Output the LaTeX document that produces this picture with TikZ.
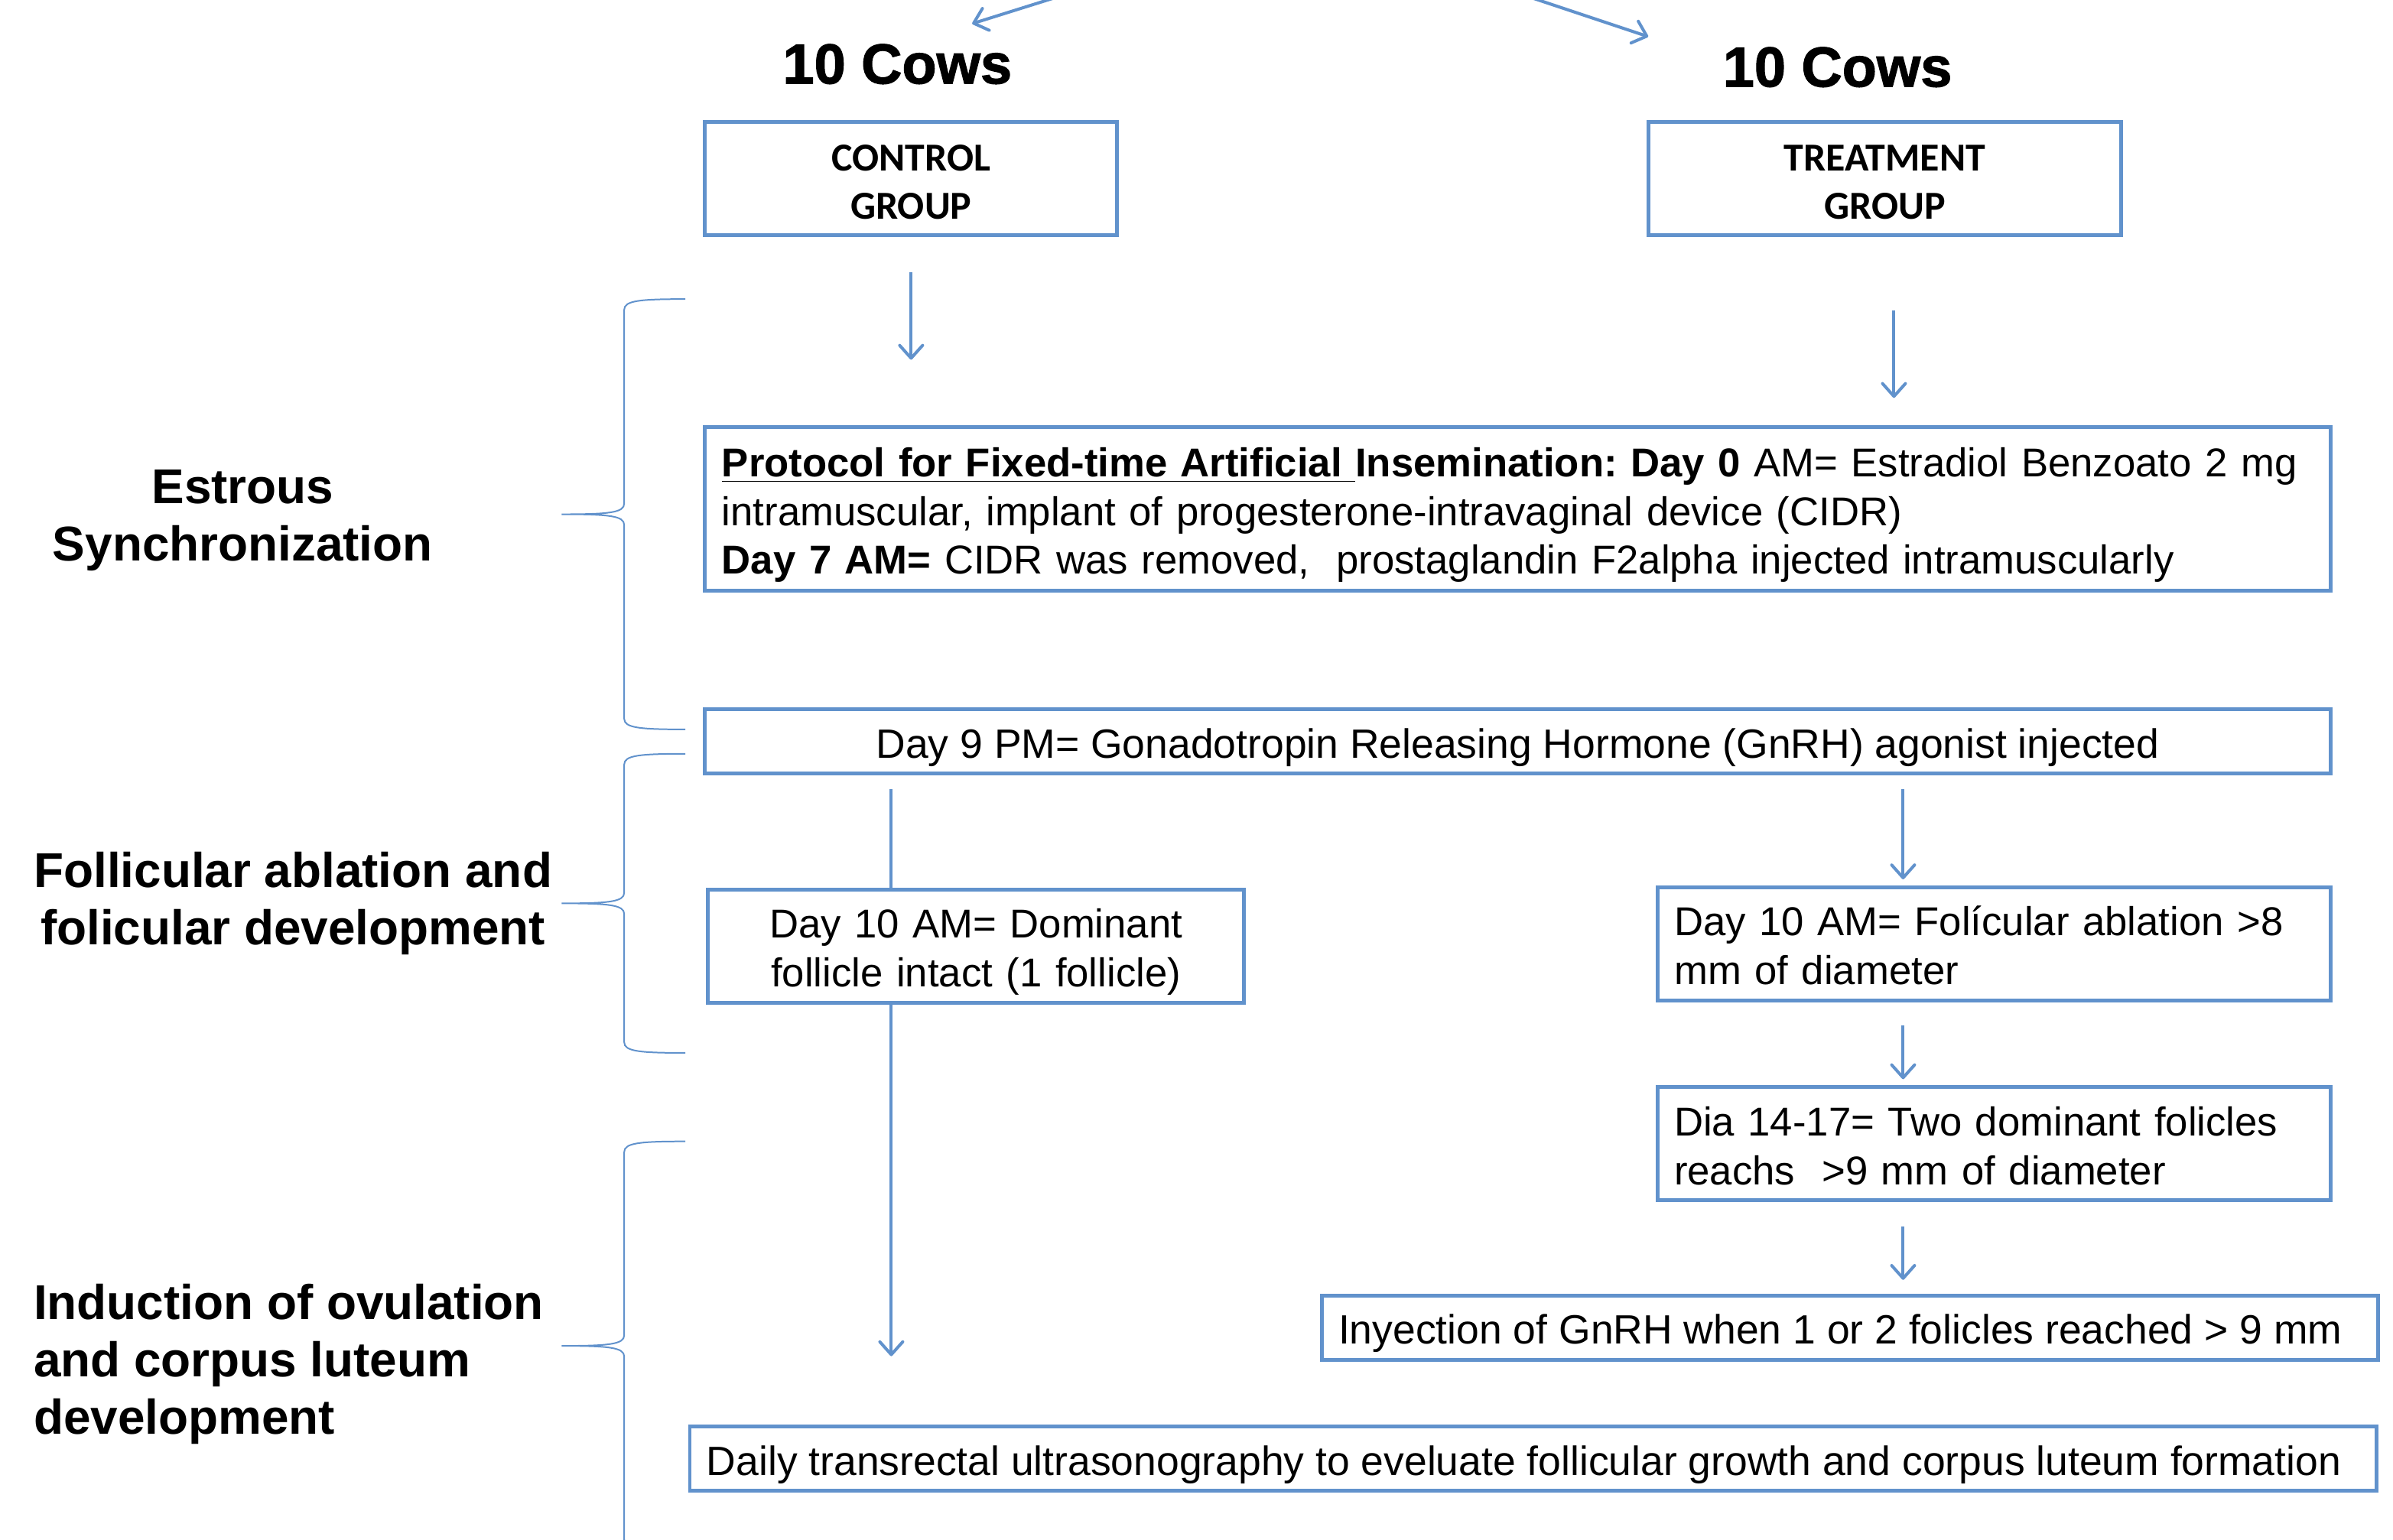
\documentclass[tikz,border=0pt]{standalone}
\usepackage{fontspec}
\setmainfont{Liberation Sans}
\newfontfamily\groupfont{Carlito}
\newfontfamily\heavyfont{Liberation Sans}[BoldFeatures={FakeBold=1.6}]
\usepackage{tikz}
\usetikzlibrary{arrows.meta}
\frenchspacing
\definecolor{flowblue}{RGB}{97,146,204}
\newcommand{\boxfont}{\fontsize{13.2}{16}\selectfont}
\newcommand{\widefont}{\fontsize{13.4}{16}\selectfont}
\newcommand{\phasefont}{\fontsize{16}{18.7}\selectfont\bfseries}
\newcommand{\lefttext}[2]{\makebox[#1][l]{#2}}
\newcommand{\bracex}{409}
\tikzset{
    common/.style={draw=flowblue, line width=1.25pt, rectangle, inner xsep=5.5pt, inner ysep=0pt, font=\boxfont,
        execute at begin node={\rule{0pt}{14.5pt}}, execute at end node={\rule[-3.7pt]{0pt}{0pt}}},
    groupbox/.style={common, minimum height=37pt, align=center, font=\groupfont\fontsize{13}{16}\selectfont\bfseries,
        execute at begin node={\rule{0pt}{14pt}}, execute at end node={\rule[-3.6pt]{0pt}{0pt}}},
    stepbox/.style={common, minimum height=37pt},
    wide/.style={common, minimum height=21pt, font=\widefont},
    cows/.style={font=\heavyfont\fontsize{18.5}{20}\selectfont\bfseries},
    phase/.style={font=\phasefont},
    conn/.style={flowblue, line width=1pt, -{Straight Barb[length=4.2pt, width=7.5pt, round]}},
    plainconn/.style={flowblue, line width=1pt},
    brace/.style={flowblue, line width=0.5pt}
}
% brace: top, bottom
\newcommand{\phasebrace}[2]{
    \pgfmathsetmacro{\bracemid}{(#1+#2)/2}
    \draw[brace] (\bracex+40,#1) .. controls (\bracex+10,#1) and (\bracex,#1+1) .. (\bracex,#1+7)
        -- (\bracex,\bracemid-7) .. controls (\bracex,\bracemid-1) and (\bracex-10,\bracemid) .. (\bracex-41,\bracemid)
        .. controls (\bracex-10,\bracemid) and (\bracex,\bracemid+1) .. (\bracex,\bracemid+7)
        -- (\bracex,#2-7) .. controls (\bracex,#2-1) and (\bracex+10,#2) .. (\bracex+40,#2);
}
\begin{document}
\begin{tikzpicture}[x=0.5pt, y=-0.5pt]
    \useasboundingbox (0,0) rectangle (1568,1009);

    % groups
    \node[cows] (cowsA) at (588,42) {10 Cows};
    \node[cows] (cowsB) at (1204,44) {10 Cows};
    \node[groupbox, minimum width=135pt, text width=124pt] (control) at (597,117) {CONTROL\\GROUP};
    \node[groupbox, minimum width=155pt, text width=144pt] (treatment) at (1235,117) {TREATMENT\\GROUP};

    \coordinate (split-l) at (712,-8);
    \coordinate (split-r) at (984,-8);
    \coordinate (cowsA-in) at (637,15.5);
    \coordinate (cowsB-in) at (1080,24);

    % protocol
    \node[common, minimum width=532.5pt, minimum height=53.5pt, text width=521.5pt, align=left] (protocol) at (994.5,333.5)
        {\textbf{\underline{Protocol for Fixed-time Artificial\ }Insemination: Day 0} AM= Estradiol Benzoato 2 mg\\
         intramuscular, implant of progesterone-intravaginal device (CIDR)\\
         \textbf{Day 7 AM=} CIDR was removed,\ \ prostaglandin F2alpha injected intramuscularly};
    \node[wide, minimum width=532.5pt] (gnrh) at (994.5,486)
        {Day 9 PM= Gonadotropin Releasing Hormone (GnRH) agonist injected};

    % follicles
    \node[stepbox, minimum width=175.5pt, text width=164.5pt, align=center] (dominant) at (639.5,620)
        {Day 10 AM= Dominant\\follicle intact (1 follicle)};
    \node[stepbox, minimum width=220.5pt, text width=209.5pt, align=left] (ablation) at (1306.5,618.5)
        {Day 10 AM= Folícular ablation >8\\mm of diameter};
    \node[stepbox, minimum width=220.5pt, text width=209.5pt, align=left] (dia) at (1306.5,749.5)
        {Dia 14-17= Two dominant folicles\\reachs\ \ >9 mm of diameter};
    \node[wide, minimum width=346pt] (injection) at (1212,870)
        {\lefttext{335pt}{Inyection of GnRH when 1 or 2 folicles reached > 9 mm}};
    \node[wide, minimum width=552.5pt] (daily) at (1004.5,956)
        {\lefttext{541.5pt}{Daily transrectal ultrasonography to eveluate follicular growth and corpus luteum formation}};

    % phases
    \node[phase, align=center] (estrous) at (159,341) {Estrous\\Synchronization};
    \node[phase, align=center] (ablationphase) at (192,592) {Follicular ablation and\\folicular development};
    \node[phase, align=left, anchor=west] (induction) at (15,894) {Induction of ovulation\\and corpus luteum\\development};
    \phasebrace{196}{478}
    \phasebrace{494}{690}
    \phasebrace{748}{1016}

    % connectors
    \draw[conn] (split-l) -- (cowsA-in);
    \draw[conn] (split-r) -- (cowsB-in);
    \draw[conn, shorten <=11.5pt, shorten >=21.5pt] (control.south) -- (control.south |- protocol.north);
    \draw[conn, shorten <=24pt, shorten >=9pt] ([xshift=3pt]treatment.south) -- ([xshift=3pt]treatment.south |- protocol.north);
    \draw[plainconn, shorten <=4.5pt] ([xshift=-27.75pt]dominant.north |- gnrh.south) -- ([xshift=-27.75pt]dominant.north);
    \draw[conn, shorten >=22.5pt] ([xshift=-27.75pt]dominant.south) -- ([xshift=-27.75pt]dominant.south |- daily.north);
    \draw[conn, shorten <=4.5pt, shorten >=2pt] ([xshift=-29.75pt]ablation.north |- gnrh.south) -- ([xshift=-29.75pt]ablation.north);
    \draw[conn, shorten <=7.5pt, shorten >=2pt] ([xshift=-29.75pt]ablation.south) -- ([xshift=-29.75pt]dia.north);
    \draw[conn, shorten <=8pt, shorten >=4.5pt] ([xshift=-29.75pt]dia.south) -- ([xshift=-29.75pt]dia.south |- injection.north);
\end{tikzpicture}
\end{document}
